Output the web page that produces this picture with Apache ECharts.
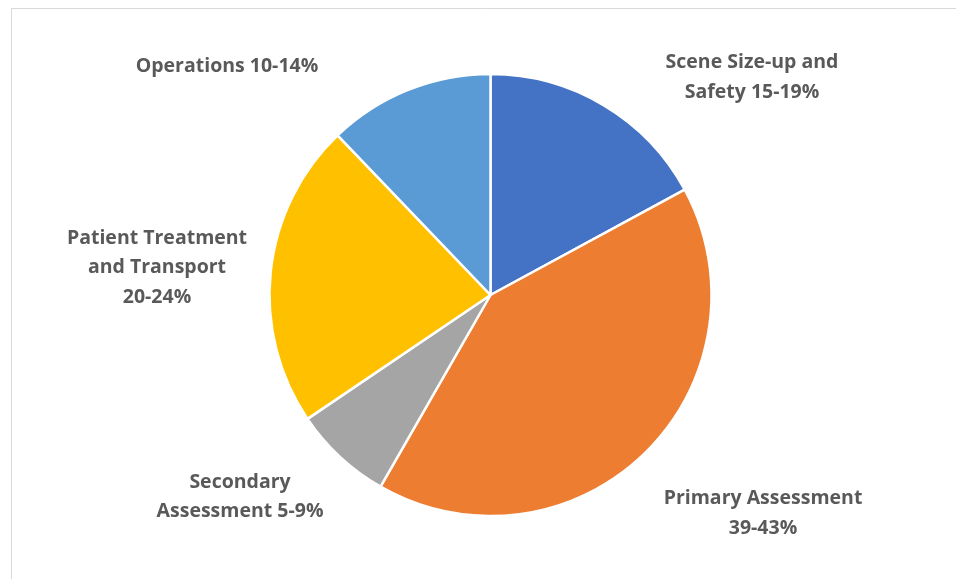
<!DOCTYPE html>
<html>
<head>
<meta charset="utf-8">
<script src="https://cdn.jsdelivr.net/npm/echarts@6/dist/echarts.min.js"></script>
<style>html,body{margin:0;padding:0;background:#fff;}#c{width:956px;height:579px;}</style>
</head>
<body>
<div id="c"></div>
<script>
const categories = [
  "Scene Size-up and\nSafety 15-19%",
  "Primary Assessment\n39-43%",
  "Secondary\nAssessment 5-9%",
  "Patient Treatment\nand Transport\n20-24%",
  "Operations 10-14%"
];
const values = [17, 41, 7.2, 22.2, 12.1];
const colors = ["#4472C4", "#ED7D31", "#A5A5A5", "#FFC000", "#5B9BD5"];

const labelCenters = [[752, 77.5], [763, 513.5], [240, 497], [157, 267.5], [227, 66.5]];

const chart = echarts.init(document.getElementById('c'), null, {renderer: 'canvas'});
chart.setOption({
  backgroundColor: '#ffffff',
  animation: false,
  graphic: [{
    type: 'rect', silent: true,
    shape: {x: 11.5, y: 8.5, width: 1000, height: 700},
    style: {fill: 'none', stroke: '#d9d9d9', lineWidth: 1}
  }],
  series: [{
    type: 'pie',
    center: [490.5, 295],
    radius: 221,
    startAngle: 90,
    clockwise: true,
    data: categories.map((c, i) => ({name: c, value: values[i], itemStyle: {color: colors[i]}})),
    itemStyle: {borderColor: '#ffffff', borderWidth: 2.5},
    label: {
      show: true,
      position: 'outside',
      formatter: '{b}',
      fontFamily: 'Open Sans',
      fontWeight: 'bold',
      fontSize: 19.5,
      lineHeight: 29.5,
      color: '#595959',
      align: 'center'
    },
    labelLine: {show: false},
    labelLayout: function (p) {
      const c = labelCenters[p.dataIndex];
      return {x: c[0], y: c[1], align: 'center', verticalAlign: 'middle'};
    },
    emphasis: {disabled: true}
  }]
});
</script>
</body>
</html>
